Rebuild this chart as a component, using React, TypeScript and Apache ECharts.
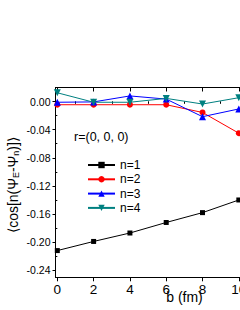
import React, { useEffect, useRef } from "react";
import * as echarts from "echarts";

const xValues = [0, 2, 4, 6, 8, 10];
const seriesNames = ["n=1", "n=2", "n=3", "n=4"];
const n1 = [-0.212, -0.199, -0.187, -0.172, -0.158, -0.14];
const n2 = [-0.0045, -0.0045, -0.0045, -0.0045, -0.0155, -0.045];
const n3 = [-0.001, -0.0005, 0.008, 0.0035, -0.0215, -0.0105];
const n4 = [0.0125, -0.001, -0.001, 0.0045, -0.0035, 0.0055];
const xMajorTicks = [0, 2, 4, 6, 8, 10];
const xMinorTicks = [1, 3, 5, 7, 9];
const yMajorTicks = [-0.24, -0.2, -0.16, -0.12, -0.08, -0.04, 0];
const yMinorTicks = [-0.22, -0.18, -0.14, -0.1, -0.06, -0.02];

const FONT = "Liberation Sans, Arial, sans-serif";

export default function App() {
  const ref = useRef<HTMLDivElement>(null);
  useEffect(() => {
    if (!ref.current) return;
    const chart = echarts.init(ref.current, undefined, { renderer: "svg" });
    const xRange = { min: -0.1, max: 10.5 };
    const yRange = { min: -0.25, max: 0.02 };
    const axisBase = {
      type: "value" as const,
      ...xRange,
      splitLine: { show: false },
    };
    const colors = ["#000000", "#ff0000", "#0000ff", "#008080"];
    const symbols = ["rect", "circle", "triangle", "triangle"];
    const sizes = [5, 6, 7, 7];
    const rotates = [0, 0, 0, 180];
    const values = [n1, n2, n3, n4];
    chart.setOption({
      animation: false,
      grid: { left: 55.5, top: 87.5, width: 192.4, height: 189.8, containLabel: false },
      xAxis: [
        {
          ...axisBase,
          position: "bottom",
          axisLine: { show: true, onZero: false, lineStyle: { color: "#000", width: 1 } },
          axisTick: { show: true, inside: false, length: 4, customValues: xMajorTicks, lineStyle: { color: "#000" } },
          axisLabel: {
            show: true,
            customValues: xMajorTicks,
            margin: 5,
            fontSize: 13.5,
            color: "#000",
            fontFamily: FONT,
          },
        },
        {
          ...axisBase,
          position: "bottom",
          axisLine: { show: false },
          axisTick: { show: true, inside: false, length: 2, customValues: xMinorTicks, lineStyle: { color: "#000" } },
          axisLabel: { show: false },
        },
        {
          ...axisBase,
          position: "top",
          axisLine: { show: true, onZero: false, lineStyle: { color: "#000", width: 1 } },
          axisTick: { show: true, inside: true, length: 4, customValues: xMajorTicks, lineStyle: { color: "#000" } },
          axisLabel: { show: false },
        },
        {
          ...axisBase,
          position: "top",
          axisLine: { show: false },
          axisTick: { show: true, inside: true, length: 2, customValues: xMinorTicks, lineStyle: { color: "#000" } },
          axisLabel: { show: false },
        },
      ],
      yAxis: [
        {
          type: "value",
          ...yRange,
          position: "left",
          splitLine: { show: false },
          axisLine: { show: true, onZero: false, lineStyle: { color: "#000", width: 1 } },
          axisTick: { show: true, inside: false, length: 3, customValues: yMajorTicks, lineStyle: { color: "#000" } },
          axisLabel: {
            show: true,
            customValues: yMajorTicks,
            margin: 5,
            fontSize: 10.5,
            color: "#000",
            fontFamily: FONT,
            formatter: (v: number) => (Math.abs(v) < 1e-9 ? "0.00" : v.toFixed(2)),
          },
        },
        {
          type: "value",
          ...yRange,
          position: "left",
          splitLine: { show: false },
          axisLine: { show: false },
          axisTick: { show: true, inside: false, length: 2, customValues: yMinorTicks, lineStyle: { color: "#000" } },
          axisLabel: { show: false },
        },
      ],
      legend: {
        data: seriesNames,
        orient: "vertical",
        left: 82,
        top: 154,
        itemWidth: 27,
        itemHeight: 8,
        itemGap: 2.3,
        textStyle: { fontSize: 12, color: "#000", fontFamily: FONT, lineHeight: 12 },
      },
      graphic: [
        {
          type: "text",
          left: 74,
          top: 130,
          style: { text: "r=(0, 0, 0)", fontSize: 12.5, fill: "#000", fontFamily: FONT },
        },
        {
          type: "text",
          x: 184.5,
          y: 297,
          style: {
            text: "b (fm)",
            fontSize: 14,
            fill: "#000",
            fontFamily: FONT,
            align: "center",
            verticalAlign: "middle",
          },
        },
        {
          type: "text",
          x: 13,
          y: 185,
          rotation: Math.PI / 2,
          style: {
            text: "⟨cos[n(Ψ{s|E}-Ψ{s|n})]⟩",
            fontSize: 14,
            fill: "#000",
            fontFamily: FONT,
            align: "center",
            verticalAlign: "middle",
            rich: {
              s: { fontSize: 9, fontFamily: FONT, fill: "#000", verticalAlign: "bottom", lineHeight: 9 },
            },
          },
        },
      ],
      series: seriesNames.map((name, i) => ({
        name,
        type: "line",
        xAxisIndex: 0,
        yAxisIndex: 0,
        data: xValues.map((x, j) => [x, values[i][j]]),
        symbol: symbols[i],
        symbolSize: sizes[i],
        symbolRotate: rotates[i],
        showAllSymbol: true,
        lineStyle: { color: colors[i], width: 1 },
        itemStyle: { color: colors[i] },
        emphasis: { disabled: true },
      })),
    });
    return () => chart.dispose();
  }, []);
  return (
    <div
      style={{ position: "fixed", left: 0, top: 0, width: 240, height: 310, overflow: "hidden", background: "#fff" }}
    >
      <div ref={ref} style={{ position: "absolute", left: 0, top: 0, width: 260, height: 310 }} />
    </div>
  );
}
